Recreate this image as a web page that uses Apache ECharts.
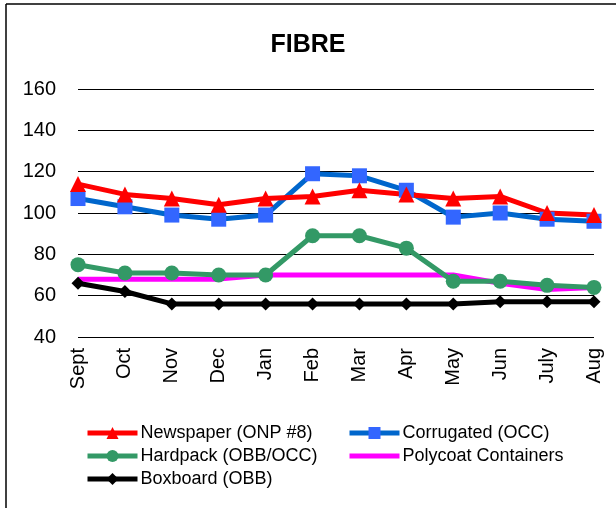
<!DOCTYPE html>
<html><head><meta charset="utf-8">
<script src="https://cdn.jsdelivr.net/npm/echarts@6/dist/echarts.min.js"></script>
<style>html,body{margin:0;padding:0;background:#fff}#c{width:616px;height:508px}</style>
</head><body><div id="c"></div>
<script>
const months = ['Sept','Oct','Nov','Dec','Jan','Feb','Mar','Apr','May','Jun','July','Aug'];
const newspaper = [114,109,107,104,107,108,111,109,107,108,100,99];
const corrugated = [107,103,99,97,99,119,118,111,98,100,97,96];
const hardpack = [75,71,71,70,70,89,89,83,67,67,65,64];
const polycoat = [68,68,68,68,70,70,70,70,70,66,63,64];
const boxboard = [66,62,56,56,56,56,56,56,56,57,57,57];
const yTicks = {min:40, max:160, interval:20};

const F = 'Liberation Sans, Arial, sans-serif';
const chart = echarts.init(document.getElementById('c'), null, {renderer:'canvas'});
function s(name, data, color, symbol, size, symColor){
  return {name, type:'line', data, symbol, symbolSize:size, showSymbol: symbol!=='none',
    lineStyle:{color, width:5}, itemStyle:{color: symColor||color}, color,
    animation:false};
}
const legText = {fontFamily:F, fontSize:18, color:'#000', padding:[0,0,0,-2]};
const legBase = {top:424, padding:0, orient:'vertical', itemWidth:50, itemHeight:15, itemGap:5,
  textStyle:legText, lineStyle:{width:5}};
chart.setOption({
  animation:false,
  title:{text:'FIBRE', left:'center', top:28, textStyle:{fontFamily:F, fontSize:25, fontWeight:'bold', color:'#000'}},
  grid:{left:78, right:22, top:89, bottom:171},
  xAxis:{type:'category', data:months, boundaryGap:false,
    axisLine:{show:false}, axisTick:{show:false},
    axisLabel:{rotate:90, fontFamily:F, fontSize:20, color:'#000', margin:11}},
  yAxis:{type:'value', min:yTicks.min, max:yTicks.max, interval:yTicks.interval,
    axisLine:{show:false}, axisTick:{show:false},
    axisLabel:{fontFamily:F, fontSize:20, color:'#000', margin:22},
    splitLine:{lineStyle:{color:'#000', width:1}}},
  legend:[
    Object.assign({left:85, data:['Newspaper (ONP #8)','Hardpack (OBB/OCC)','Boxboard (OBB)']}, legBase),
    Object.assign({left:347, data:['Corrugated (OCC)',{name:'Polycoat Containers', itemStyle:{opacity:0}}]}, legBase)
  ],
  graphic:[
    {type:'line', shape:{x1:6, y1:4, x2:616, y2:4}, style:{stroke:'#000', lineWidth:1.5}},
    {type:'line', shape:{x1:6, y1:4, x2:6, y2:508}, style:{stroke:'#000', lineWidth:1.5}}
  ],
  series:[
    s('Polycoat Containers', polycoat, '#ff00ff', 'none', 0),
    s('Boxboard (OBB)', boxboard, '#000000', 'diamond', 13),
    s('Hardpack (OBB/OCC)', hardpack, '#339966', 'circle', 15),
    s('Corrugated (OCC)', corrugated, '#0066cc', 'rect', 15, '#3366ff'),
    s('Newspaper (ONP #8)', newspaper, '#ff0000', 'triangle', 16)
  ]
});
</script></body></html>
